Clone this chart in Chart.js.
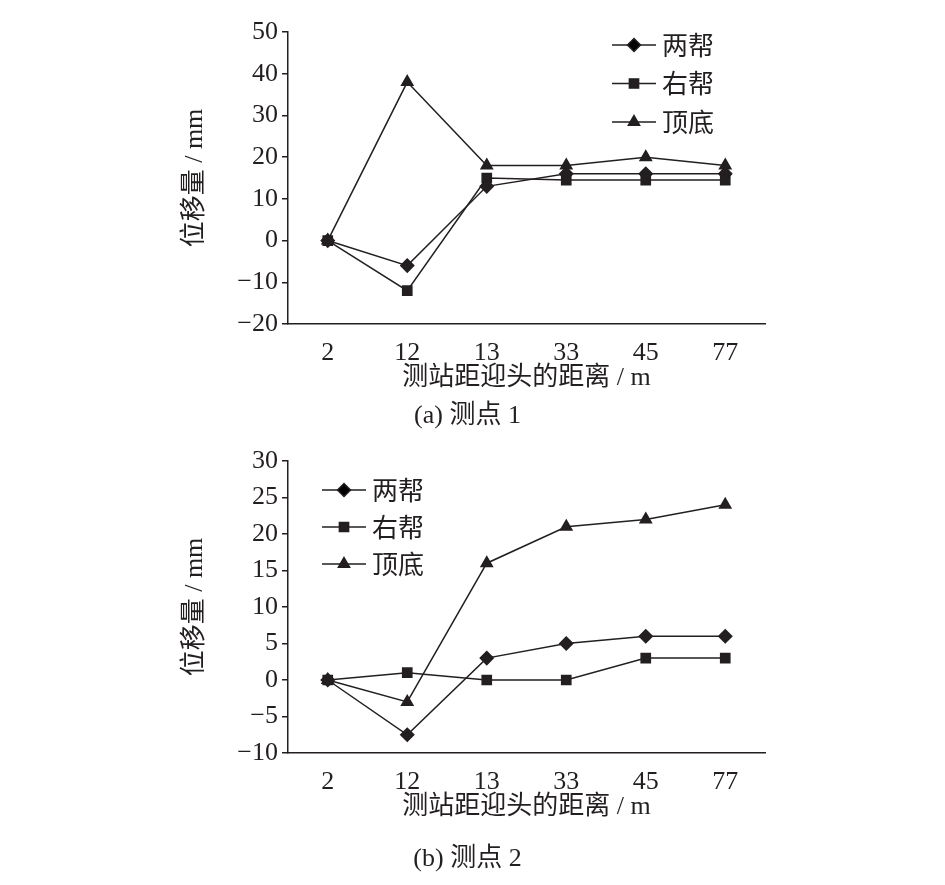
<!DOCTYPE html>
<html><head><meta charset="utf-8">
<script src="https://cdn.jsdelivr.net/npm/chart.js@4"></script>
<style>
body{margin:0;background:#fff;width:945px;height:885px;position:relative;overflow:hidden}
canvas{position:absolute;left:0}
.cap{position:absolute;left:0;width:945px;text-align:center;font:26px "Liberation Serif","Noto Sans CJK SC";color:#231f20}
</style></head><body>
<div style="position:absolute;top:0;left:0;width:945px;height:440px"><canvas id="ca"></canvas></div>
<div style="position:absolute;top:440px;left:0;width:945px;height:440px"><canvas id="cb"></canvas></div>
<div class="cap" style="top:393px;left:-5px">(a) 测点 1</div>
<div class="cap" style="top:836px;left:-5px">(b) 测点 2</div>
<script>
const categories = ['2', '12', '13', '33', '45', '77'];
const seriesNames = ['两帮', '右帮', '顶底'];
const pointStyles = ['rectRot', 'rect', 'triangle'];
const a_liangbang = [0, -6, 13, 16, 16, 16];
const a_youbang = [0, -12, 15, 14.5, 14.5, 14.5];
const a_dingdi = [0, 38, 18, 18, 20, 18];
const b_liangbang = [0, -7.5, 3, 5, 6, 6];
const b_youbang = [0, 1, 0, 0, 3, 3];
const b_dingdi = [0, -3, 16, 21, 22, 24];

const INK = '#231f20';
const numFont = { family: '"Liberation Serif"', size: 26 };
const cjkFont = { family: '"Liberation Serif","Noto Sans CJK SC"', size: 26 };

// legend drawn as line + marker, like the print
const lineLegend = {
    id: 'lineLegend',
    afterDraw(chart, args, opts) {
        const ctx = chart.ctx;
        ctx.save();
        chart.data.datasets.forEach((ds, i) => {
            const y = opts.y + i * opts.gap;
            ctx.strokeStyle = INK; ctx.lineWidth = 1.5;
            ctx.beginPath(); ctx.moveTo(opts.x, y); ctx.lineTo(opts.x + 44, y); ctx.stroke();
            Chart.helpers.drawPoint(ctx, { pointStyle: ds.pointStyle, radius: 6.5, borderWidth: 1 }, opts.x + 22, y);
            ctx.fillStyle = INK; ctx.font = '26px "Noto Sans CJK SC"'; ctx.textBaseline = 'middle';
            ctx.fillText(ds.label, opts.x + 50, y);
        });
        ctx.restore();
    }
};

function makeChart(id, data, yMin, yMax, step, pad, legendPos) {
    new Chart(document.getElementById(id), {
        type: 'line',
        data: {
            labels: categories,
            datasets: data.map((d, i) => ({
                label: seriesNames[i], data: d,
                borderColor: INK, backgroundColor: INK, borderWidth: 1.5,
                pointStyle: pointStyles[i], pointRadius: 6.5, tension: 0,
            })),
        },
        options: {
            responsive: true, maintainAspectRatio: false, animation: false,
            layout: { padding: pad },
            plugins: { legend: { display: false }, tooltip: { enabled: false }, lineLegend: legendPos },
            scales: {
                x: {
                    offset: true,
                    grid: { display: false },
                    border: { color: INK, width: 1.5 },
                    ticks: { color: INK, font: numFont, padding: 6 },
                    title: { display: true, text: '测站距迎头的距离 / m', color: INK, font: cjkFont, padding: 0 },
                    afterFit: s => { s.height = 70; },
                },
                y: {
                    min: yMin, max: yMax,
                    grid: { drawOnChartArea: false, tickLength: 6, color: INK, lineWidth: 1.5 },
                    border: { color: INK, width: 1.5 },
                    ticks: { stepSize: step, color: INK, font: numFont, padding: 4,
                        callback: v => String(v).replace('-', '−') },
                    title: { display: true, text: '位移量 / mm', color: INK, font: cjkFont, padding: 0 },
                    afterFit: s => { s.width = 108; },
                },
            },
        },
        plugins: [lineLegend],
    });
}

makeChart('ca', [a_liangbang, a_youbang, a_dingdi], -20, 50, 10,
    { left: 180, right: 180, top: 32, bottom: 46 }, { x: 612, y: 45, gap: 38.5 });
makeChart('cb', [b_liangbang, b_youbang, b_dingdi], -10, 30, 5,
    { left: 180, right: 180, top: 21, bottom: 57 }, { x: 322, y: 50, gap: 37 });
</script>
</body></html>
